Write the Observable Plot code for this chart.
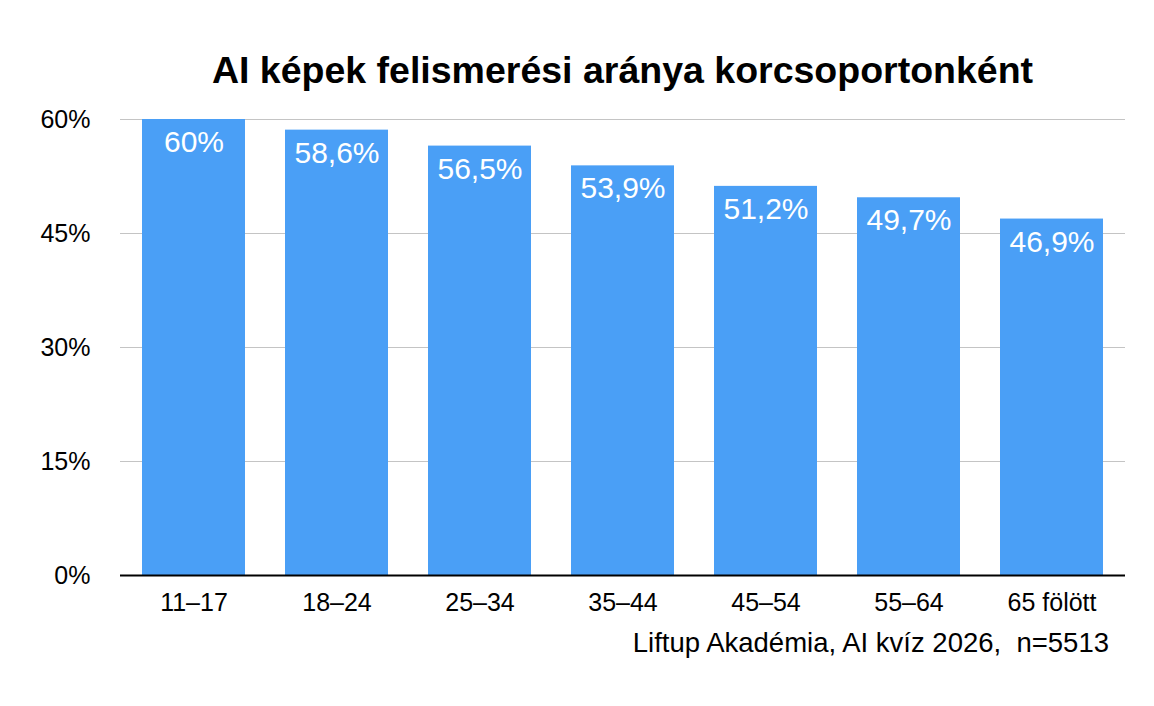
<!DOCTYPE html>
<html>
<head>
<meta charset="utf-8">
<script src="https://cdn.jsdelivr.net/npm/d3@7"></script>
<script src="https://cdn.jsdelivr.net/npm/@observablehq/plot@0.6"></script>
<style>
  html, body { margin: 0; padding: 0; background: #fff; }
  body { width: 1154px; height: 706px; overflow: hidden; font-family: "Liberation Sans", Arial, Helvetica, sans-serif; }
  #title { box-sizing: border-box; height: 100px; padding: 50px 29px 0 120px; text-align: center;
           font-size: 37.5px; font-weight: bold; line-height: 40px; color: #000; }
  #caption { box-sizing: border-box; width: 1154px; padding-right: 45px; text-align: right;
             font-size: 27.5px; line-height: 36px; color: #000; }
  svg { display: block; }
</style>
</head>
<body>
<div id="title">AI képek felismerési aránya korcsoportonként</div>
<div id="chart"></div>
<div id="caption">Liftup Akadémia, AI kvíz 2026,&nbsp; n=5513</div>
<script>
const ageGroups = ["11–17", "18–24", "25–34", "35–44", "45–54", "55–64", "65 fölött"];
const rates = [60, 58.6, 56.5, 53.9, 51.2, 49.7, 46.9];
const yTicks = [0, 15, 30, 45, 60];

const data = ageGroups.map((g, i) => ({group: g, rate: rates[i]}));
const fmt = v => String(v).replace(".", ",") + "%";

const chart = Plot.plot({
  width: 1154,
  height: 525,
  marginTop: 19,
  marginBottom: 50,
  marginLeft: 120,
  marginRight: 29,
  style: {fontFamily: '"Liberation Sans", Arial, Helvetica, sans-serif', fontSize: "25px", color: "#000", background: "#fff"},
  x: {domain: ageGroups, paddingInner: 0.283, paddingOuter: 0.147, label: null, tickSize: 0, tickPadding: 18},
  y: {domain: [0, 60], ticks: yTicks, tickFormat: d => d + "%", label: null, tickSize: 0, tickPadding: 30},
  marks: [
    Plot.gridY(yTicks, {stroke: "#c4c4c4", strokeOpacity: 1, strokeWidth: 1}),
    Plot.barY(data, {x: "group", y: "rate", fill: "#4a9ff6"}),
    Plot.ruleY([0], {stroke: "#000", strokeWidth: 2}),
    Plot.text(data, {x: "group", y: "rate", text: d => fmt(d.rate), fill: "#fff", fontSize: 30, dy: 23})
  ]
});
document.getElementById("chart").appendChild(chart);
</script>
</body>
</html>
